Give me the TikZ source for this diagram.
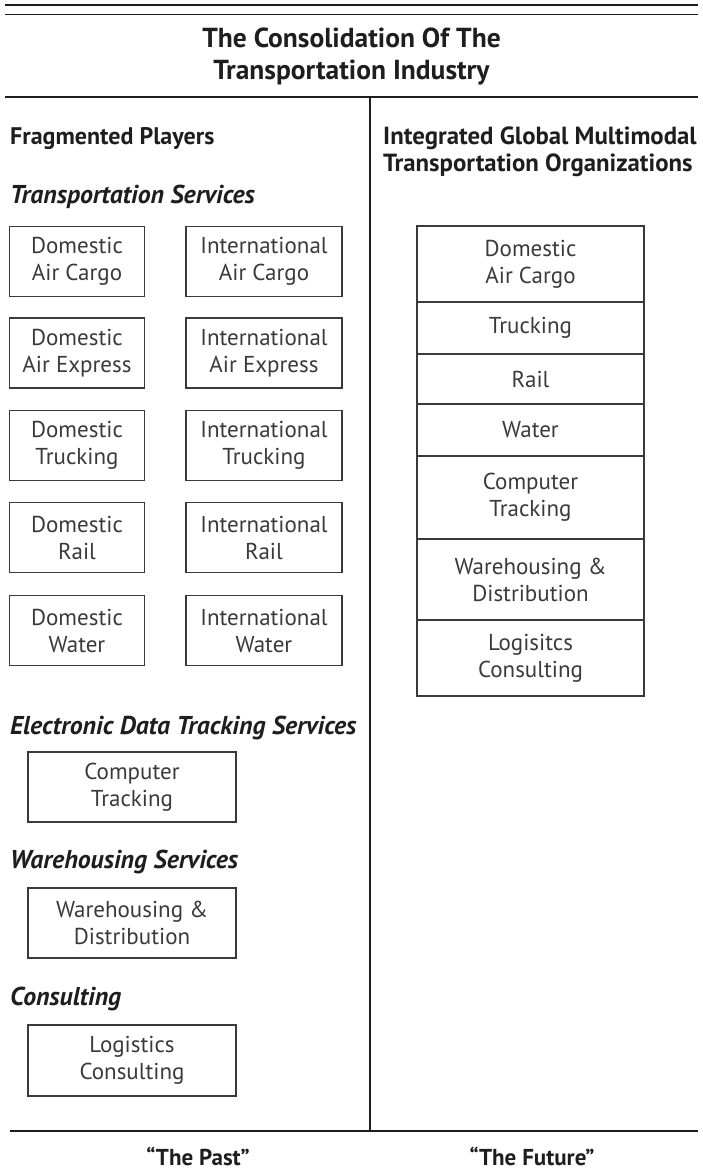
\documentclass[tikz,border=0pt]{standalone}
\usepackage{fontspec}
\setmainfont{PT Sans}
\definecolor{ink}{HTML}{1E1E1E}
\definecolor{boxink}{HTML}{3A3A3A}
\begin{document}
\begin{tikzpicture}[x=1pt,y=-1pt,
  box/.style={draw=boxink, line width=1.2pt, text=boxink, align=center, inner sep=0pt,
    font=\fontsize{23}{27}\selectfont},
  cell/.style={box, minimum width=227pt},
  head/.style={anchor=base west, text=ink, font=\fontsize{24}{27}\selectfont\bfseries, inner sep=0pt, align=left},
  sect/.style={anchor=base west, text=ink, font=\fontsize{25.8}{27}\selectfont\bfseries\itshape, inner sep=0pt},
  rule/.style={draw=ink}
]
\useasboundingbox (0,0) rectangle (703,1171);
% top rules
\draw[rule, line width=2pt] (5,4.5) -- (698,4.5);
\draw[rule, line width=1.5pt] (5,14.5) -- (698,14.5);
\node[text=ink, align=center, font=\fontsize{27.5}{32}\selectfont\bfseries, inner sep=0pt] (title) at (351.5,56)
  {The Consolidation Of The\\Transportation Industry};
\draw[rule, line width=2.5pt] (5,97) -- (698,97);
\draw[rule, line width=2pt] (370,97) -- (370,1131);
\draw[rule, line width=2pt] (10,1131) -- (698,1131);

% left column
\node[head] (frag) at (10,144) {Fragmented Players};
\node[sect] (ts) at (10,203) {Transportation Services};

\node[box, minimum width=135pt, minimum height=70pt] (d1) at (77,261.5) {Domestic\\Air Cargo};
\node[box, minimum width=156pt, minimum height=70pt] (i1) at (264,261.5) {International\\Air Cargo};
\node[box, minimum width=135pt, minimum height=70pt] (d2) at (77,353) {Domestic\\Air Express};
\node[box, minimum width=156pt, minimum height=70pt] (i2) at (264,353) {International\\Air Express};
\node[box, minimum width=135pt, minimum height=70pt] (d3) at (77,445.5) {Domestic\\Trucking};
\node[box, minimum width=156pt, minimum height=70pt] (i3) at (264,445.5) {International\\Trucking};
\node[box, minimum width=135pt, minimum height=70pt] (d4) at (77,537.5) {Domestic\\Rail};
\node[box, minimum width=156pt, minimum height=70pt] (i4) at (264,537.5) {International\\Rail};
\node[box, minimum width=135pt, minimum height=70pt] (d5) at (77,630.5) {Domestic\\Water};
\node[box, minimum width=156pt, minimum height=70pt] (i5) at (264,630.5) {International\\Water};

\node[sect] (edt) at (10,734) {Electronic Data Tracking Services};
\node[box, minimum width=208pt, minimum height=70pt] (ct) at (132,787) {Computer\\Tracking};
\node[sect] (ws) at (10,868) {Warehousing Services};
\node[box, minimum width=208pt, minimum height=70pt] (wd) at (132,923) {Warehousing \&\\Distribution};
\node[sect] (cs) at (10,1005) {Consulting};
\node[box, minimum width=208pt, minimum height=71pt] (lc) at (132,1060.5) {Logistics\\Consulting};

% right column
\node[head, font=\fontsize{24.8}{27}\selectfont\bfseries] (igm) at (383,171) {Integrated Global Multimodal\\Transportation Organizations};

\node[cell, minimum height=76pt] (r1) at (530.5,264) {Domestic\\Air Cargo};
\node[cell, minimum height=52pt] (r2) at (530.5,328) {Trucking};
\node[cell, minimum height=50pt] (r3) at (530.5,379) {Rail};
\node[cell, minimum height=52pt] (r4) at (530.5,430) {Water};
\node[cell, minimum height=83pt] (r5) at (530.5,497.5) {Computer\\Tracking};
\node[cell, minimum height=81pt] (r6) at (530.5,579.5) {Warehousing \&\\Distribution};
\node[cell, minimum height=76pt] (r7) at (530.5,658) {Logisitcs\\Consulting};

% bottom labels
\node[text=ink, font=\fontsize{23}{27}\selectfont\bfseries, inner sep=0pt, anchor=base] (past) at (198,1165) {``The Past''};
\node[text=ink, font=\fontsize{23}{27}\selectfont\bfseries, inner sep=0pt, anchor=base] (fut) at (532,1165) {``The Future''};
\end{tikzpicture}
\end{document}
